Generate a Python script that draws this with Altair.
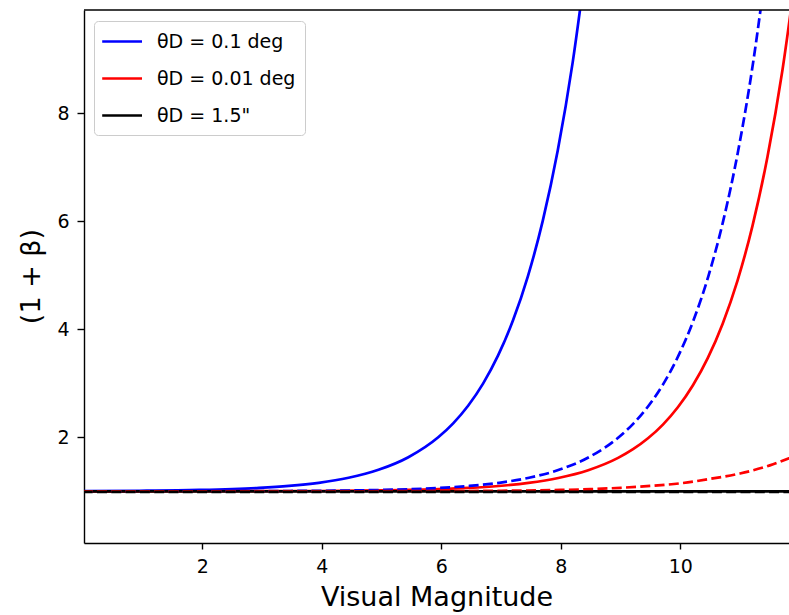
import altair as alt
import pandas as pd

# ---------------- data ----------------
series_labels = ["θD = 0.1 deg", "θD = 0.01 deg", 'θD = 1.5"']
series_colors = ["#0000ff", "#ff0000", "#000000"]

x_ticks = [2, 4, 6, 8, 10]
y_ticks = [2, 4, 6, 8]

# theta_D = 0.1 deg, solid
mag_blue_solid = [0.0, 0.95, 1.95, 2.95, 3.45, 3.95, 4.45, 4.95, 5.45, 5.95, 6.2,
                  6.45, 6.7, 6.95, 7.2, 7.45, 7.7, 7.95, 8.2, 8.45]
val_blue_solid = [1.004, 1.010, 1.025, 1.063, 1.100, 1.158, 1.251, 1.398, 1.631,
                  2.000, 2.259, 2.585, 2.995, 3.512, 4.162, 4.981, 6.012, 7.310,
                  8.943, 11.0]

# theta_D = 0.1 deg, dashed
mag_blue_dash = [0.0, 1.97, 2.97, 3.97, 4.97, 5.97, 6.47, 6.97, 7.47, 7.97, 8.47,
                 8.97, 9.22, 9.47, 9.72, 9.97, 10.22, 10.47, 10.72, 10.97, 11.22,
                 11.47]
val_blue_dash = [1.000, 1.002, 1.004, 1.010, 1.025, 1.063, 1.100, 1.158, 1.251,
                 1.398, 1.631, 2.000, 2.259, 2.585, 2.995, 3.512, 4.162, 4.981,
                 6.012, 7.310, 8.943, 11.0]

# theta_D = 0.01 deg, solid
mag_red_solid = [0.0, 1.96, 3.96, 4.96, 5.96, 6.46, 6.96, 7.46, 7.96, 8.46, 8.96,
                 9.21, 9.46, 9.71, 9.96, 10.21, 10.46, 10.71, 10.96, 11.21, 11.46,
                 11.71, 11.96]
val_red_solid = [1.000, 1.001, 1.006, 1.016, 1.039, 1.062, 1.098, 1.156, 1.247,
                 1.391, 1.619, 1.780, 1.982, 2.236, 2.556, 2.959, 3.466, 4.105,
                 4.908, 5.920, 7.194, 8.798, 10.818]

# theta_D = 0.01 deg, dashed
mag_red_dash = [0.0, 4.0, 6.0, 7.0, 8.0, 8.5, 9.0, 9.5, 10.0, 10.5, 11.0, 11.5,
                11.82, 12.0]
val_red_dash = [1.000, 1.001, 1.004, 1.010, 1.025, 1.040, 1.065, 1.100, 1.148,
                1.230, 1.330, 1.480, 1.610, 1.690]

# theta_D = 1.5", solid and dashed
mag_black_solid = [0.0, 12.0]
val_black_solid = [1.0, 1.0]
mag_black_dash = [0.0, 12.0]
val_black_dash = [0.99, 0.99]

# ---------------- tables ----------------
solid_df = pd.concat([
    pd.DataFrame({"m": mag_blue_solid, "y": val_blue_solid, "series": series_labels[0]}),
    pd.DataFrame({"m": mag_red_solid, "y": val_red_solid, "series": series_labels[1]}),
    pd.DataFrame({"m": mag_black_solid, "y": val_black_solid, "series": series_labels[2]}),
], ignore_index=True)

dash_df = pd.concat([
    pd.DataFrame({"m": mag_blue_dash, "y": val_blue_dash, "grp": "b", "hex": series_colors[0]}),
    pd.DataFrame({"m": mag_red_dash, "y": val_red_dash, "grp": "r", "hex": series_colors[1]}),
    pd.DataFrame({"m": mag_black_dash, "y": val_black_dash, "grp": "k", "hex": series_colors[2]}),
], ignore_index=True)

W, H = 705, 533

x_scale = alt.Scale(domain=[0.022, 11.82], nice=False, zero=False)
y_scale = alt.Scale(domain=[0.043, 9.913], nice=False, zero=False)

x_axis = alt.Axis(values=x_ticks, format="d", title="Visual Magnitude", grid=False,
                  domainColor="black", domainWidth=1.4, tickColor="black",
                  tickWidth=1.4, tickSize=6, labelFontSize=19, labelPadding=8,
                  labelColor="black", labelFlush=False, titleFontSize=27,
                  titleFontWeight="normal", titleColor="black", titleY=62,
                  titleBaseline="alphabetic")
y_axis = alt.Axis(values=y_ticks, format="d", title="(1 + β)", grid=False,
                  domainColor="black", domainWidth=1.4, tickColor="black",
                  tickWidth=1.4, tickSize=7, labelFontSize=19, labelPadding=8,
                  labelColor="black", labelFlush=False, titleFontSize=27,
                  titleFontWeight="normal", titleColor="black", titleAngle=270,
                  titleX=-45, titleY=266, titleAlign="center",
                  titleBaseline="alphabetic")

legend = alt.Legend(title=None, orient="none", legendX=10, legendY=11,
                    symbolType="M-1.23,0H2.75", symbolSize=400,
                    symbolStrokeWidth=2.7, labelFontSize=19, labelColor="black",
                    labelOffset=31, rowPadding=15, padding=9,
                    strokeColor="#cccccc", fillColor="white", cornerRadius=4,
                    labelLimit=400)

solid = alt.Chart(solid_df).mark_line(clip=True, strokeWidth=2.7, interpolate="monotone").encode(
    x=alt.X("m:Q", scale=x_scale, axis=x_axis),
    y=alt.Y("y:Q", scale=y_scale, axis=y_axis),
    color=alt.Color("series:N", scale=alt.Scale(domain=series_labels, range=series_colors),
                    legend=legend),
)

dashed = alt.Chart(dash_df).mark_line(clip=True, strokeWidth=2.7, strokeDash=[10, 4.3],
                                      interpolate="monotone").encode(
    x=alt.X("m:Q", scale=x_scale),
    y=alt.Y("y:Q", scale=y_scale),
    stroke=alt.Stroke("hex:N", scale=None),
    detail="grp:N",
)

top_border = alt.Chart(pd.DataFrame({"a": [0]})).mark_rule(color="black", strokeWidth=1.4).encode(
    x=alt.value(0), x2=alt.value(W), y=alt.value(0)
)

chart = alt.layer(solid, dashed, top_border).properties(
    width=W, height=H,
    autosize=alt.AutoSizeParams(type="none"),
    padding={"left": 84, "top": 10, "right": 0, "bottom": 72},
).configure(font="DejaVu Sans").configure_view(stroke=None)

chart.save("out.html", embed_options={"renderer": "svg", "actions": False})
